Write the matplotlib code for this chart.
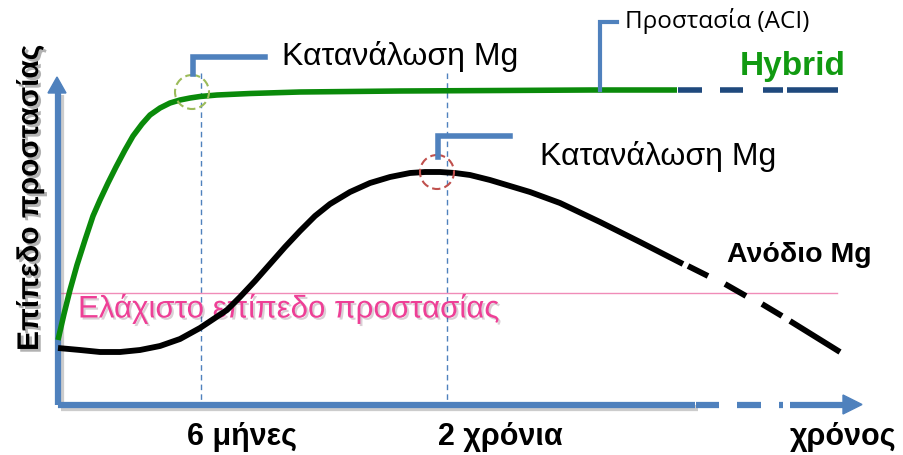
import matplotlib
matplotlib.use("Agg")
import matplotlib.pyplot as plt
import matplotlib.patheffects as pe
from matplotlib.patches import Circle

# Hybrid (green) curve (x, y in pixel units, y downwards)
hyb_x = [58, 64, 70, 77, 85, 93, 100, 108, 116, 125, 133, 142, 150, 160, 170, 180, 190,
         200, 217, 250, 300, 400, 500, 590, 677]
hyb_y = [340, 314, 290, 265, 240, 216, 200, 183, 167, 150, 136, 124, 115, 108, 103, 100, 98,
         96.5, 95, 93.5, 92, 91, 90.5, 90, 90]
# Hybrid dashed continuation (segments)
hyb_dash = [(678, 702), (720, 743), (763, 783), (787, 838)]
hyb_dash_y = 90

# Mg anode (black) curve
mg_x = [58, 80, 100, 120, 140, 160, 180, 200, 215, 227, 240, 255, 270, 285, 300, 315, 330,
        350, 370, 390, 410, 425, 440, 455, 470, 490, 510, 530, 560, 600, 640, 683]
mg_y = [348, 350, 352, 352, 350, 346, 339, 328, 318, 310, 297, 281, 264, 247, 231, 216, 204,
        192, 183, 177, 173, 172, 172, 173, 175, 180, 186, 192, 203, 222, 242, 264]
# Mg dashed continuation (segments: x0, y0, x1, y1)
mg_dash = [(688, 266, 708, 276), (725, 284, 746, 296), (762, 304, 782, 316), (790, 321, 840, 352)]

min_level = 293
month6_x = 201
year2_x = 447

x_labels = ["6 μήνες", "2 χρόνια", "χρόνος"]
x_label_pos = [242, 500, 843]

blue = "#4f81bd"
green = "#0a8a0a"
shadow = [pe.SimpleLineShadow(offset=(2, -2), shadow_color="gray", alpha=0.4), pe.Normal()]

fig = plt.figure(figsize=(9.04, 4.55), dpi=100)
ax = fig.add_axes([0, 0, 1, 1])
ax.set_xlim(0, 904)
ax.set_ylim(455, 0)
ax.axis("off")

# axes lines
ax.plot([58, 58], [405, 92], color=blue, lw=4.5, solid_capstyle="butt", path_effects=shadow, zorder=3)
ax.fill([48, 66, 57], [93, 93, 77], color=blue, zorder=3)
ax.plot([58, 695], [405, 405], color=blue, lw=4.5, solid_capstyle="butt", path_effects=shadow, zorder=3)
for a, b in [(696, 719), (737, 761), (779, 783), (790, 845)]:
    ax.plot([a, b], [404.5, 404.5], color=blue, lw=4.5, solid_capstyle="butt", zorder=3)
ax.fill([843, 843, 862], [395, 414, 404.5], color=blue, zorder=3)

# dashed guide lines
ax.plot([month6_x, month6_x], [73, 403], color=blue, lw=1, ls=(0, (4, 3)), zorder=2)
ax.plot([year2_x, year2_x], [73, 403], color=blue, lw=1, ls=(0, (4, 3)), zorder=2)

# min protection level
ax.plot([58, 837], [min_level, min_level], color="#f08cb8", lw=1, zorder=2)
ax.text(78, 309, "Ελάχιστο επίπεδο προστασίας", color="#ee3f96", fontsize=22.5,
        family="Liberation Sans", va="center", ha="left", zorder=4,
        path_effects=[pe.withSimplePatchShadow(offset=(1.5, -1.5), alpha=0.2)])

# curves
ax.plot(hyb_x, hyb_y, color=green, lw=4, solid_capstyle="butt", zorder=5)
for a, b in hyb_dash:
    ax.plot([a, b], [hyb_dash_y, hyb_dash_y], color="#1f497d", lw=4, solid_capstyle="butt", zorder=5)
ax.plot(mg_x, mg_y, color="black", lw=4.2, solid_capstyle="butt", zorder=5)
for x0, y0, x1, y1 in mg_dash:
    ax.plot([x0, x1], [y0, y1], color="black", lw=4.2, solid_capstyle="butt", zorder=5)

# callouts
ax.add_patch(Circle((192, 92), 17, fill=False, ec="#9bbb59", lw=1.5, ls=(0, (4, 2)), zorder=6))
ax.plot([193, 193, 265], [74, 57, 57], color=blue, lw=4, solid_joinstyle="miter", zorder=6)
ax.text(282, 56, "Κατανάλωση Mg", fontsize=23, family="Liberation Sans", va="center", ha="left")

ax.add_patch(Circle((437, 172), 17, fill=False, ec="#c0504d", lw=1.5, ls=(0, (4, 2)), zorder=6))
ax.plot([438, 438, 510], [157, 136, 136], color=blue, lw=4, solid_joinstyle="miter", zorder=6)
ax.text(540, 156, "Κατανάλωση Mg", fontsize=23, family="Liberation Sans", va="center", ha="left")

ax.plot([600, 600, 617], [90, 22, 22], color=blue, lw=3, solid_joinstyle="miter", zorder=6)
ax.text(625, 21, "Προστασία (ACI)", fontsize=17.5, family="Open Sans", va="center", ha="left")
ax.text(740, 66, "Hybrid", fontsize=24, family="Liberation Sans", weight="bold",
        color="#119a11", va="center", ha="left")
ax.text(727, 255, "Ανόδιο Mg", fontsize=20.5, family="Liberation Sans", weight="bold",
        va="center", ha="left")

# y axis label
ax.text(30, 198, "Επίπεδο προστασίας", fontsize=21.5, family="Liberation Sans", weight="bold",
        rotation=90, va="center", ha="center",
        path_effects=[pe.withSimplePatchShadow(offset=(2, -2), alpha=0.3)])

# x labels
for lab, xp in zip(x_labels, x_label_pos):
    ax.text(xp, 437, lab, fontsize=22, family="Liberation Sans", weight="bold",
            va="center", ha="center")

fig.savefig("out.png", dpi=100)
